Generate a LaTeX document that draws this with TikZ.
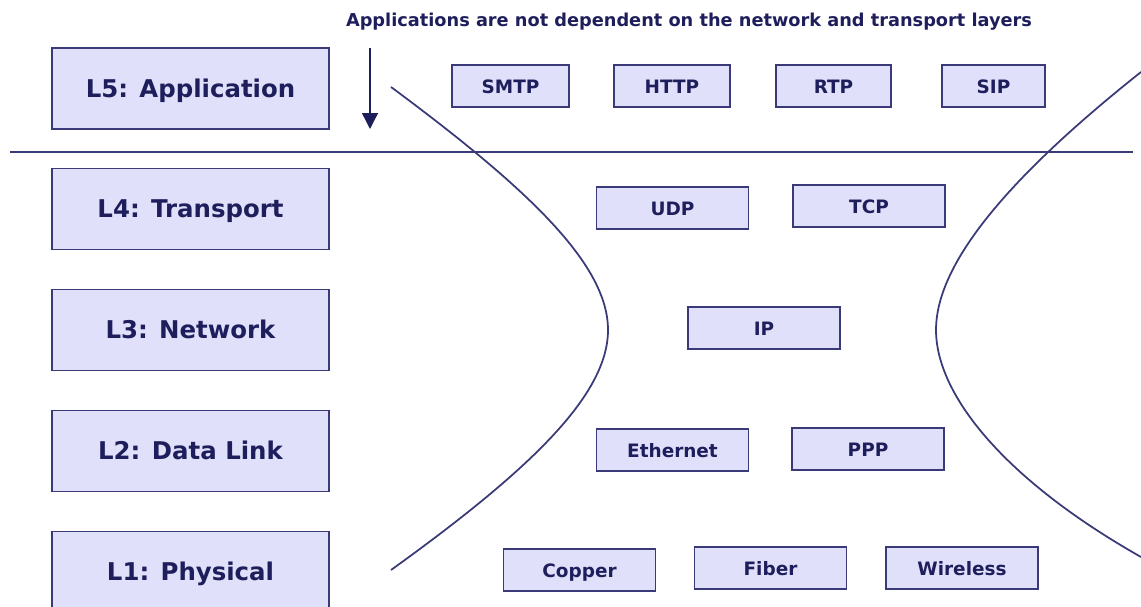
\documentclass[tikz,border=0pt]{standalone}
\usepackage{fontspec}
\setmainfont{DejaVu Sans}
\usetikzlibrary{arrows.meta}

\definecolor{navy}{HTML}{1E1E5C}
\definecolor{boxfill}{HTML}{E0E0FA}
\definecolor{boxline}{HTML}{3A3A78}

\tikzset{
  layer/.style={draw=boxline, fill=boxfill, line width=0.8pt, text=navy,
    minimum width=5.54cm, minimum height=1.62cm, inner sep=0pt,
    text height=1.2em, text depth=0.2em,
    font=\fontsize{13.9}{16}\selectfont\bfseries},
  proto/.style={draw=boxline, fill=boxfill, line width=0.8pt, text=navy,
    minimum width=3.04cm, minimum height=0.84cm, inner sep=0pt,
    text height=1.02em, text depth=0.2em,
    font=\fontsize{10.5}{12}\selectfont\bfseries},
  curve/.style={boxline, line width=1pt}
}

\begin{document}
\begin{tikzpicture}[x=0.02cm,y=-0.02cm]

\useasboundingbox (0,0) rectangle (1141,607);
\clip (0,0) rectangle (1141,607);

% Layers
  \node[layer] (app)  at (190.5,88.5) {L5: Application};
  \node[layer] (trans) at (190.5,209) {L4: Transport};
  \node[layer] (net)  at (190.5,330) {L3: Network};
  \node[layer] (link) at (190.5,451) {L2: Data Link};
  \node[layer] (phys) at (190.5,572) {L1: Physical};

% Protocols
  \node[proto, minimum width=2.34cm] (smtp) at (510.5,86) {SMTP};
  \node[proto, minimum width=2.32cm] (http) at (672,86) {HTTP};
  \node[proto, minimum width=2.30cm] (rtp)  at (833.5,86) {RTP};
  \node[proto, minimum width=2.06cm] (sip)  at (993.5,86) {SIP};

  \node[proto] (udp) at (672.5,208) {UDP};
  \node[proto] (tcp) at (869,206) {TCP};

  \node[proto] (ip) at (764,328) {IP};

  \node[proto] (eth) at (672.5,450) {Ethernet};
  \node[proto] (ppp) at (868,449) {PPP};

  \node[proto] (copper)   at (579.5,570) {Copper};
  \node[proto] (fiber)    at (770.5,568) {Fiber};
  \node[proto] (wireless) at (962,568) {Wireless};

% Separator
  \coordinate (sepl) at (10,152);
  \coordinate (sepr) at (1133,152);
  \draw[boxline, line width=0.8pt] (sepl) -- (sepr);

% Hourglass
  \draw[curve] (391,87) .. controls (530,190) and (608,265) .. (608,330)
                        .. controls (608,395) and (530,470) .. (391,570);
  \draw[curve] (1141,72) .. controls (1005,180) and (936,265) .. (936,330)
                         .. controls (936,395) and (1005,480) .. (1141,557);

% Note
  \node[text=navy, font=\fontsize{10.1}{12}\selectfont\bfseries] (note) at (689,22)
    {Applications are not dependent on the network and transport layers};
  \coordinate (arrtop) at (370,48);
  \coordinate (arrbot) at (370,129);
  \draw[-{Triangle[width=9pt,length=9pt]}, navy, line width=0.8pt] (arrtop) -- (arrbot);

\end{tikzpicture}
\end{document}
